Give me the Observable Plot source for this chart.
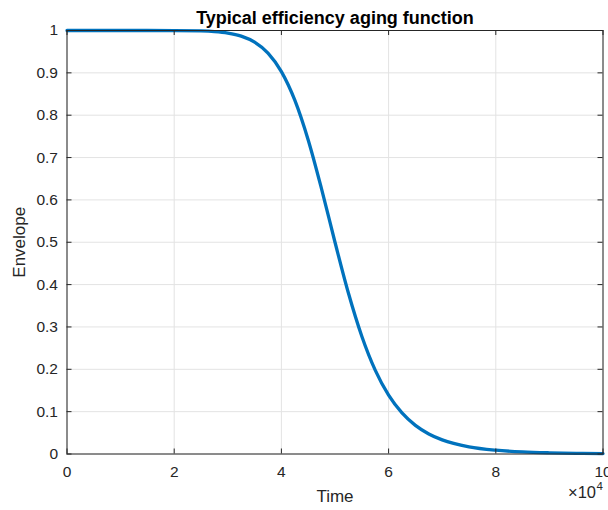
<!DOCTYPE html>
<html><head><meta charset="utf-8">
<script src="https://cdn.jsdelivr.net/npm/d3@7"></script>
<script src="https://cdn.jsdelivr.net/npm/@observablehq/plot@0.6"></script>
<style>
body{margin:0;background:#fff;}
#chart svg{display:block;}
</style>
</head><body><div id="chart"></div>
<script>
const titleText = "Typical efficiency aging function";
const xLabel = "Time";
const yLabel = "Envelope";
const time = [0, 10000, 20000, 25000, 27500, 30000, 32500, 35000, 37500, 40000, 42500, 45000, 47500, 50000, 52500, 55000, 57500, 60000, 62500, 65000, 67500, 70000, 75000, 80000, 85000, 90000, 95000, 100000];
const envelope = [1, 1, 0.9999, 0.999, 0.9975, 0.994, 0.9867, 0.9725, 0.9467, 0.903, 0.8355, 0.7415, 0.6255, 0.5, 0.38, 0.278, 0.198, 0.139, 0.097, 0.0676, 0.0474, 0.0334, 0.017, 0.009, 0.0049, 0.0028, 0.0016, 0.001];
const xTicks = [0, 20000, 40000, 60000, 80000, 100000];
const xTickLabels = ["0", "2", "4", "6", "8", "10"];
const yTicks = [0, 0.1, 0.2, 0.3, 0.4, 0.5, 0.6, 0.7, 0.8, 0.9, 1];
const yTickLabels = ["0", "0.1", "0.2", "0.3", "0.4", "0.5", "0.6", "0.7", "0.8", "0.9", "1"];
const exponentBase = "×10";
const exponentPower = "4";

const data = time.map((t, i) => ({t, e: envelope[i]}));
const xLab = xTicks.map((v, i) => ({v, s: xTickLabels[i]}));
const yLab = yTicks.map((v, i) => ({v, s: yTickLabels[i]}));
const ink = "#262626";
const grid = "#e3e3e3";
const font = "Liberation Sans, Arial, Helvetica, sans-serif";

const chart = Plot.plot({
  width: 608,
  height: 510,
  marginLeft: 66.5,
  marginRight: 5.5,
  marginTop: 30,
  marginBottom: 56.5,
  style: {fontFamily: font, color: ink, background: "#fff"},
  x: {domain: [0, 100000], axis: null},
  y: {domain: [0, 1], axis: null},
  marks: [
    Plot.ruleX(xTicks, {x: d => d, stroke: grid, strokeWidth: 1}),
    Plot.ruleY(yTicks, {y: d => d, stroke: grid, strokeWidth: 1}),
    Plot.line(data, {x: "t", y: "e", stroke: "#0072BD", strokeWidth: 3.3, curve: "monotone-x"}),
    // inward ticks
    Plot.ruleX(xTicks, {x: d => d, y1: 0, y2: 0, insetTop: -5, stroke: ink}),
    Plot.ruleX(xTicks, {x: d => d, y1: 1, y2: 1, insetBottom: -5, stroke: ink}),
    Plot.ruleY(yTicks, {y: d => d, x1: 0, x2: 0, insetRight: -5, stroke: ink}),
    Plot.ruleY(yTicks, {y: d => d, x1: 100000, x2: 100000, insetLeft: -5, stroke: ink}),
    Plot.frame({stroke: ink, strokeWidth: 1}),
    Plot.text(xLab, {x: "v", y: () => 0, text: "s", dy: 18, lineAnchor: "middle", fontSize: 15.5, fill: ink}),
    Plot.text(yLab, {x: () => 0, y: "v", text: "s", dx: -9, textAnchor: "end", lineAnchor: "middle", fontSize: 15.5, fill: ink}),
    Plot.text([titleText], {frameAnchor: "top", lineAnchor: "middle", dy: -12.5, fontSize: 18, fontWeight: "bold", fill: "#000"}),
    Plot.text([xLabel], {frameAnchor: "bottom", lineAnchor: "middle", dy: 42.5, fontSize: 17, fill: ink}),
    Plot.text([yLabel], {frameAnchor: "left", lineAnchor: "middle", textAnchor: "middle", dx: -47, rotate: -90, fontSize: 17, fill: ink}),
    Plot.text([exponentBase], {frameAnchor: "bottom-right", lineAnchor: "middle", textAnchor: "end", dx: -7, dy: 38.5, fontSize: 16.5, fill: ink}),
    Plot.text([exponentPower], {frameAnchor: "bottom-right", lineAnchor: "middle", textAnchor: "start", dx: -6.5, dy: 32.5, fontSize: 11.5, fill: ink})
  ]
});
document.getElementById("chart").appendChild(chart);
</script>
</body></html>
